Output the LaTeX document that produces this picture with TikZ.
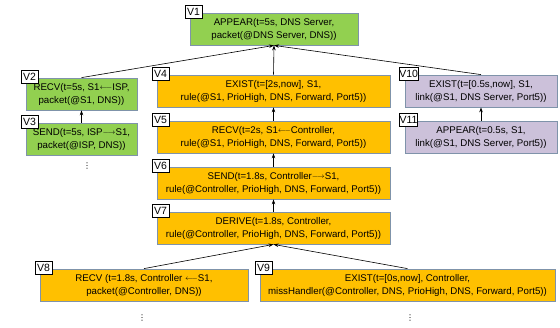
\documentclass[tikz,border=0pt]{standalone}
\usepackage{fontspec}
\setmainfont{Liberation Sans}
\newfontfamily\dejavu{DejaVu Sans}
\usetikzlibrary{arrows.meta}
\definecolor{gfill}{HTML}{92D050}
\definecolor{ofill}{HTML}{FFC000}
\definecolor{pfill}{HTML}{CCC1DA}
\definecolor{bord}{HTML}{7F93AA}
\newcommand{\la}{\raisebox{0.3pt}{$\scriptstyle\longleftarrow$}}
\newcommand{\ra}{\raisebox{0.3pt}{$\scriptstyle\longrightarrow$}}
\tikzset{
  vbox/.style={draw=bord, line width=0.8pt, minimum height=32pt, inner sep=0pt, align=center,
    font=\fontsize{9.7}{13}\selectfont},
  gbox/.style={vbox, fill=gfill},
  obox/.style={vbox, fill=ofill},
  pbox/.style={vbox, fill=pfill},
  vlab/.style={draw=black, fill=white, line width=0.6pt, inner sep=0pt, minimum width=17pt, minimum height=12.5pt,
    font=\fontsize{10.5}{11}\selectfont},
  arr/.style={-{Stealth[length=5pt,width=3.5pt]}, line width=0.6pt},
  dotsn/.style={font=\dejavu\fontsize{8}{8}\selectfont, inner sep=0pt}
}
\begin{document}
\begin{tikzpicture}[x=1pt,y=-1pt]
\useasboundingbox (0,0) rectangle (560,327);
\node[gbox, minimum width=168pt] (v1) at (274,29) {APPEAR(t=5s, DNS Server,\\packet(@DNS Server, DNS))};
\node[gbox, minimum width=111pt] (v2) at (81.5,94) {RECV(t=5s, S1\la ISP,\\packet(@S1, DNS))};
\node[gbox, minimum width=111pt] (v3) at (81.5,139) {SEND(t=5s, ISP\ra S1,\\packet(@ISP, DNS))};
\node[obox, minimum width=233pt] (v4) at (273.5,91) {EXIST(t=[2s,now], S1,\\rule(@S1, PrioHigh, DNS, Forward, Port5))};
\node[obox, minimum width=233pt] (v5) at (273.5,137) {RECV(t=2s, S1\la Controller,\\rule(@S1, PrioHigh, DNS, Forward, Port5))};
\node[obox, minimum width=233pt] (v6) at (273.5,183) {SEND(t=1.8s, Controller\ra S1,\\rule(@Controller, PrioHigh, DNS, Forward, Port5))};
\node[obox, minimum width=233pt] (v7) at (273.5,228) {DERIVE(t=1.8s, Controller,\\rule(@Controller, PrioHigh, DNS, Forward, Port5))};
\node[obox, minimum width=208pt] (v8) at (144,285) {RECV (t=1.8s, Controller \la S1,\\packet(@Controller, DNS))};
\node[obox, minimum width=295pt] (v9) at (407.5,285) {EXIST(t=[0s,now], Controller,\\missHandler(@Controller, DNS, PrioHigh, DNS, Forward, Port5))};
\node[pbox, minimum width=152pt] (v10) at (481,91) {EXIST(t=[0.5s,now], S1,\\link(@S1, DNS Server, Port5))};
\node[pbox, minimum width=152pt] (v11) at (481,137) {APPEAR(t=0.5s, S1,\\link(@S1, DNS Server, Port5))};
\foreach \n/\t in {v1/V1,v2/V2,v3/V3,v4/V4,v5/V5,v6/V6,v7/V7,v8/V8,v9/V9,v10/V10,v11/V11}{
  \node[vlab] (l\n) at ([shift={(4,-1)}]\n.north west) {\t};
}
\draw[arr] (v2.north) -- (v1.south);
\draw[arr] (v4.north) -- (v1.south);
\draw[arr] (v10.north) -- (v1.south);
\draw[arr] (v3) -- (v2);
\draw[arr] (v11) -- (v10);
\draw[arr] (v5) -- (v4);
\draw[arr] (v6) -- (v5);
\draw[arr] (v7) -- (v6);
\draw[arr] (v8.north) -- (v7.south);
\draw[arr] (v9.north) -- (v7.south);
\node[dotsn] (d1) at (87,166) {⋮};
\node[dotsn] (d2) at (142,318) {⋮};
\node[dotsn] (d3) at (410,318) {⋮};
\end{tikzpicture}
\end{document}
